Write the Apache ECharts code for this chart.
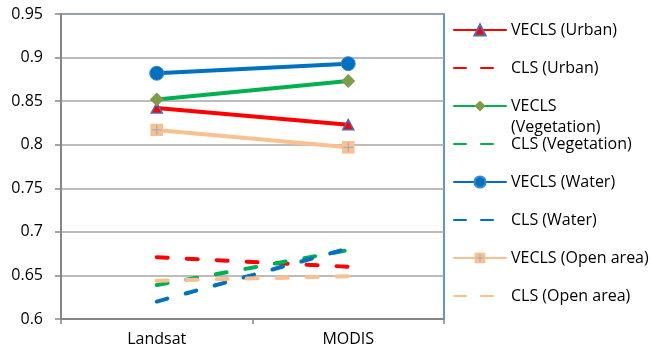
<!DOCTYPE html>
<html>
<head>
<meta charset="utf-8">
<script src="https://cdn.jsdelivr.net/npm/echarts@6/dist/echarts.min.js"></script>
<style>
  html, body { margin: 0; padding: 0; background: #fff; }
  #chart { width: 654px; height: 351px; }
</style>
</head>
<body>
<div id="chart"></div>
<script>
// Sensor categories on the x axis
const sensors = ['Landsat', 'MODIS'];

// Accuracy values per land-cover class (Landsat, MODIS)
const veclsUrban = [0.842, 0.823];
const clsUrban = [0.671, 0.660];
const veclsVegetation = [0.852, 0.873];
const clsVegetation = [0.639, 0.679];
const veclsWater = [0.882, 0.893];
const clsWater = [0.620, 0.681];
const veclsOpen = [0.817, 0.797];
const clsOpen = [0.644, 0.649];

// Y axis range
const yMin = 0.6;
const yMax = 0.95;
const yStep = 0.05;

const FONT = 'Open Sans';
const FONT_SIZE = 16;

// Square marker with a thin cross for the open-area series
const openSvg = "<svg xmlns='http://www.w3.org/2000/svg' width='26' height='26' viewBox='0 0 26 26'>" +
  "<rect x='0' y='0' width='26' height='26' fill='#FAC090'/>" +
  "<path d='M13 3V23M3 13H23' stroke='#93A9CF' stroke-width='2'/></svg>";
const openSymbol = 'image://data:image/svg+xml;charset=utf-8,' + encodeURIComponent(openSvg);

const dash = [11, 19];

function solid(name, data, color, symbol, size, symStyle) {
  return {
    name, type: 'line', data,
    symbol, symbolSize: size,
    lineStyle: { color, width: 4, cap: 'round' },
    itemStyle: Object.assign({ color }, symStyle || {}),
    emphasis: { disabled: true },
    z: 3
  };
}
function dashed(name, data, color) {
  return {
    name, type: 'line', data,
    symbol: 'none',
    lineStyle: { color, width: 4, type: dash, cap: 'round' },
    itemStyle: { color },
    emphasis: { disabled: true },
    z: 2
  };
}

const series = [
  solid('VECLS (Urban)', veclsUrban, '#FF0000', 'triangle', [11, 10], { color: '#FF0000', borderColor: '#4A6DB5', borderWidth: 1.5 }),
  dashed('CLS (Urban)', clsUrban, '#FF0000'),
  solid('VECLS (Vegetation)', veclsVegetation, '#00B050', 'diamond', [14, 14], { color: '#7E9C4A', borderColor: '#7E9C4A', borderWidth: 0 }),
  dashed('CLS (Vegetation)', clsVegetation, '#00B050'),
  solid('VECLS (Water)', veclsWater, '#0070C0', 'circle', 14, { color: '#0070C0', borderColor: '#3B8ACB', borderWidth: 1 }),
  dashed('CLS (Water)', clsWater, '#0070C0'),
  solid('VECLS (Open area)', veclsOpen, '#FAC090', openSymbol, 13, { color: '#FAC090' }),
  dashed('CLS (Open area)', clsOpen, '#FAC090')
];

// One legend block per series so each row sits at a fixed pitch
const rowY = [30, 68, 106, 144, 182, 220, 258, 296];
const LINE_H = 21;
const legends = series.map((s, i) => {
  const isVeg = s.name === 'VECLS (Vegetation)';
  const isDashed = s.symbol === 'none';
  // The wrapped label gets an empty first line so "VECLS" stays level with its icon
  const blockH = isVeg ? LINE_H * 3 : LINE_H;
  const leg = {
    data: [s.name],
    orient: 'vertical',
    left: 453,
    top: rowY[i] - blockH / 2,
    padding: 0,
    itemWidth: 52,
    itemHeight: 14,
    itemGap: 0,
    selectedMode: false,
    formatter: isVeg ? '\nVECLS\n(Vegetation)' : '{name}',
    textStyle: { fontFamily: FONT, fontSize: FONT_SIZE, color: '#000', lineHeight: LINE_H }
  };
  if (isDashed) {
    leg.itemStyle = { opacity: 0 };
    leg.lineStyle = { type: [12, 15], cap: 'round' };
  }
  return leg;
});

const chart = echarts.init(document.getElementById('chart'), null, { renderer: 'canvas' });
chart.setOption({
  animation: false,
  backgroundColor: '#fff',
  legend: legends,
  grid: {
    left: 61, right: 210, top: 14, bottom: 32,
    show: true, borderColor: '#2E75B6', borderWidth: 1.5, backgroundColor: '#fff'
  },
  xAxis: {
    type: 'category',
    data: sensors,
    boundaryGap: true,
    axisLine: { lineStyle: { color: '#868686', width: 2 } },
    axisTick: { show: true, length: 5, lineStyle: { color: '#868686', width: 1.5 } },
    axisLabel: { fontFamily: FONT, fontSize: FONT_SIZE, color: '#000', margin: 12 }
  },
  yAxis: {
    type: 'value',
    min: yMin, max: yMax, interval: yStep,
    axisLine: { show: true, lineStyle: { color: '#868686', width: 2 } },
    axisTick: { show: true, length: 6, lineStyle: { color: '#868686', width: 1.5 } },
    splitLine: { lineStyle: { color: '#A6A6A6', width: 1.5 } },
    axisLabel: { fontFamily: FONT, fontSize: FONT_SIZE, color: '#000', margin: 18 }
  },
  series
});
</script>
</body>
</html>
